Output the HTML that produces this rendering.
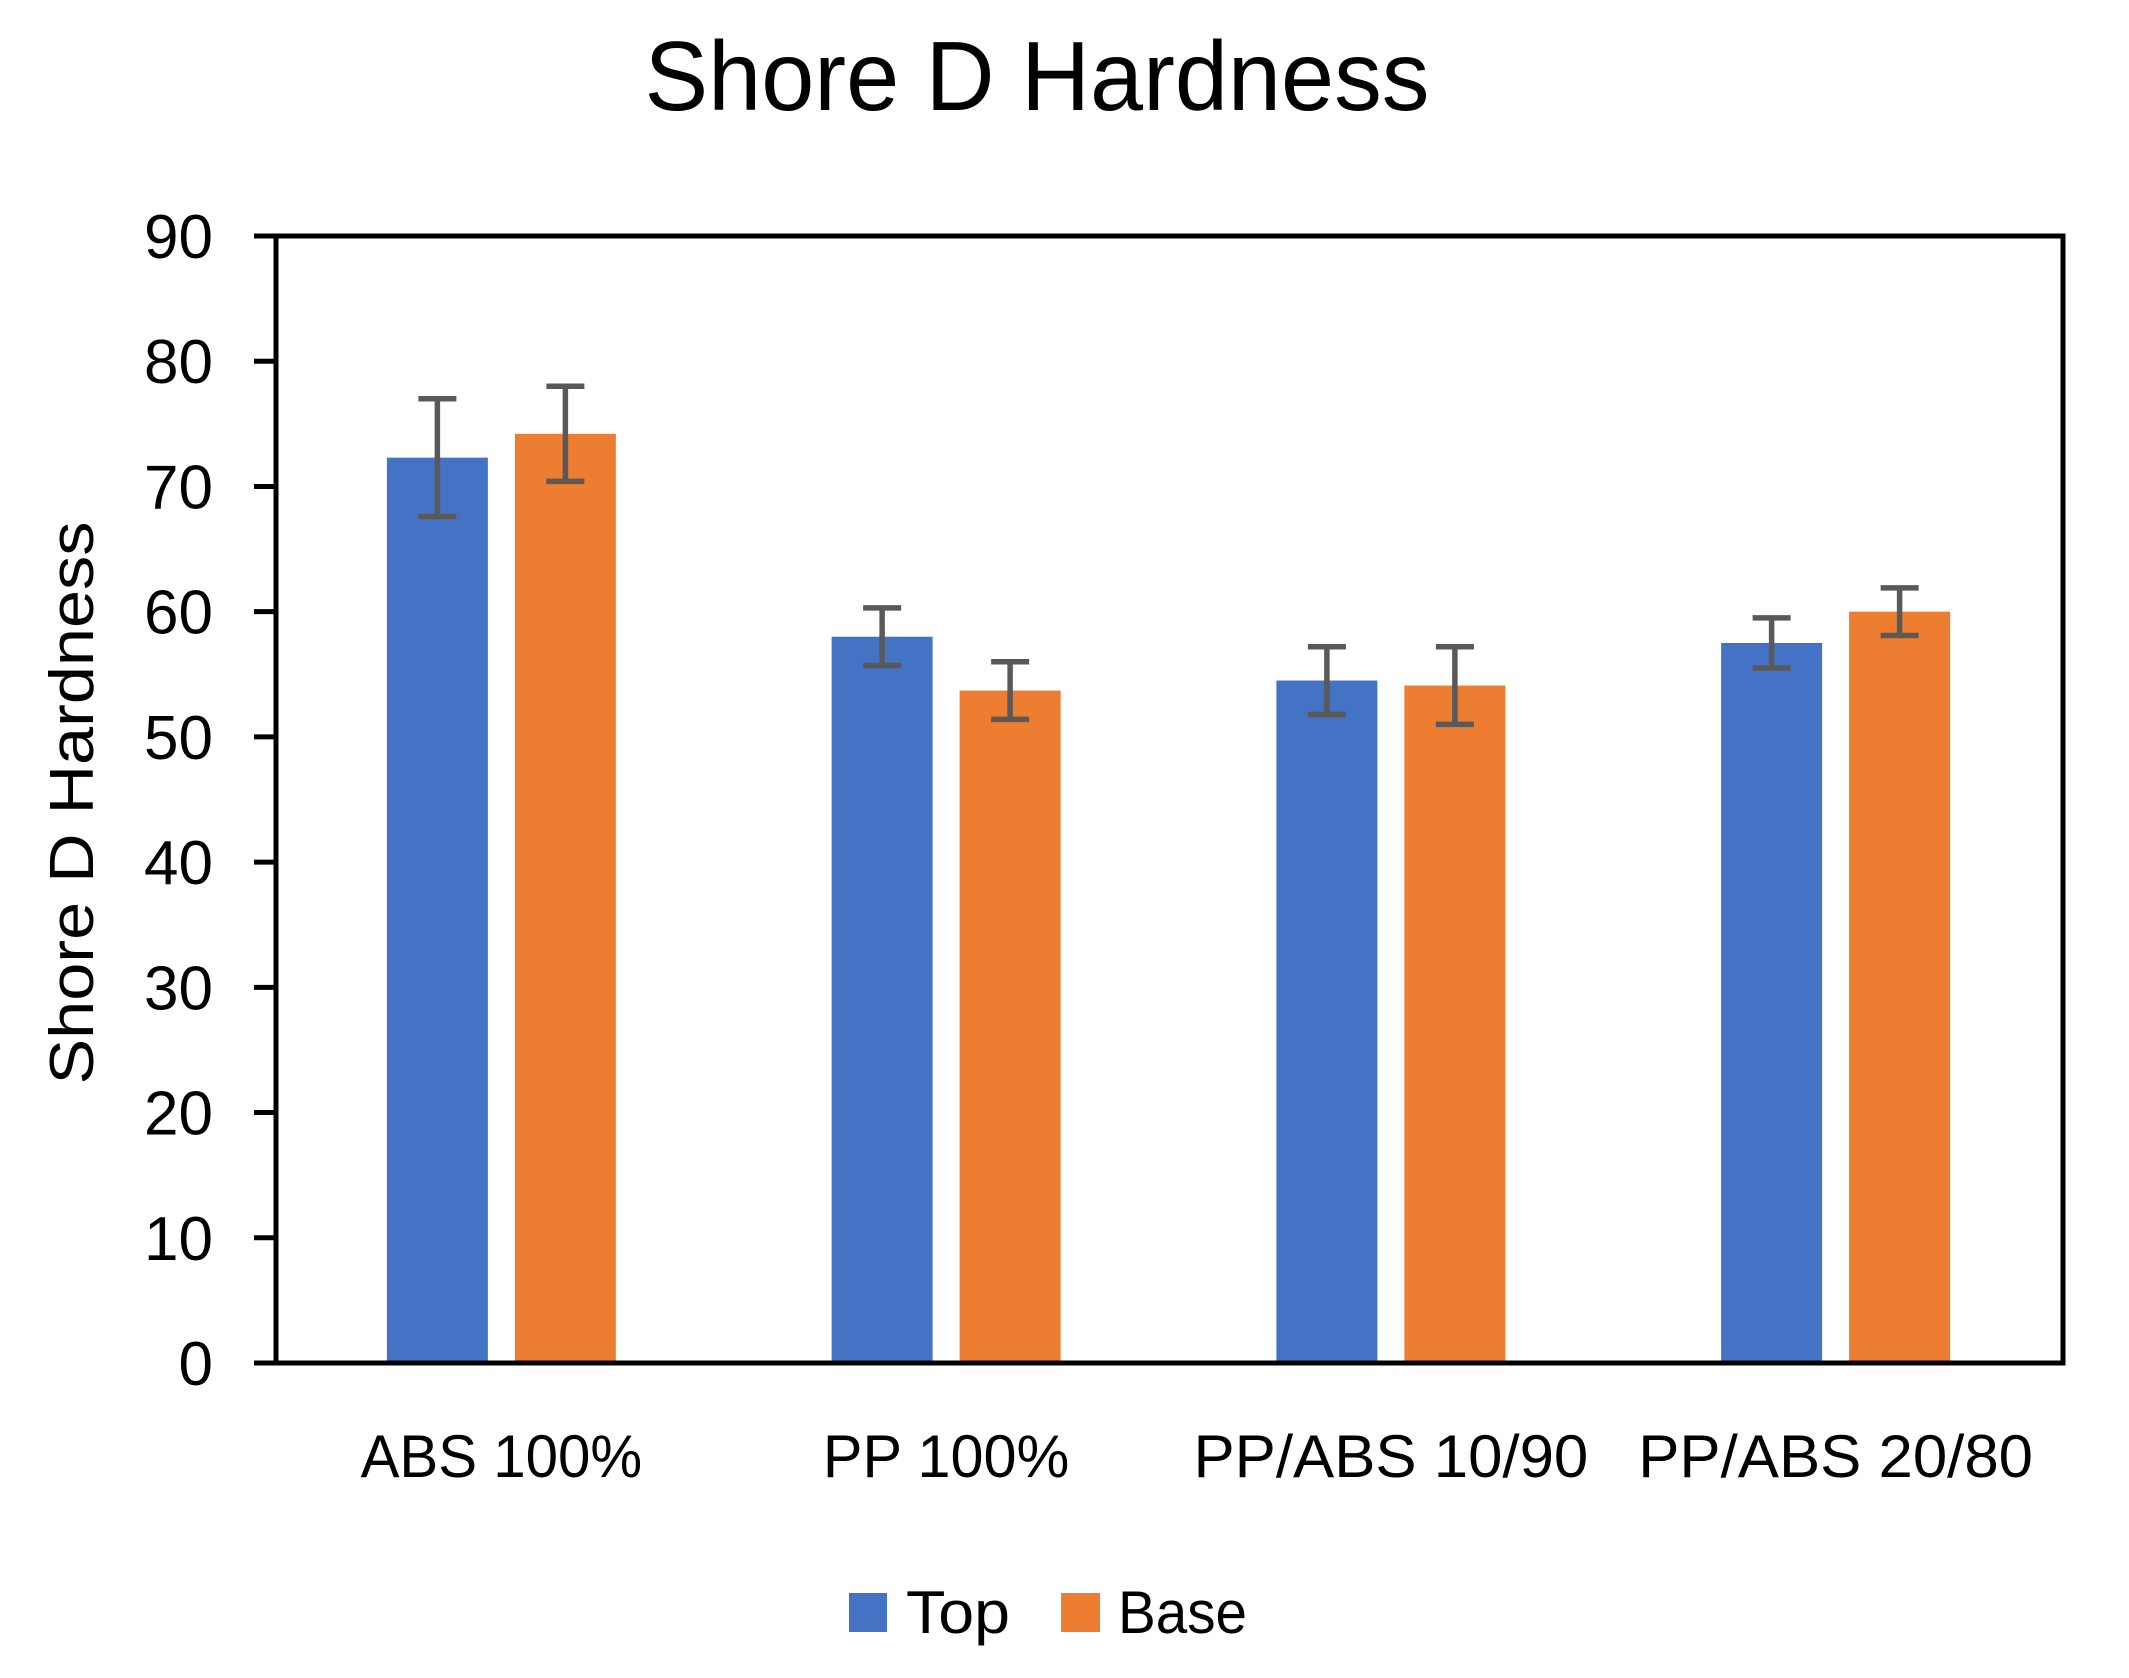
<!DOCTYPE html>
<html><head><meta charset="utf-8"><style>
html,body{margin:0;padding:0;background:#fff;}
svg{display:block;font-family:"Liberation Sans",sans-serif;}
</style></head><body>
<svg id="chart" width="2129" height="1678" viewBox="0 0 2129 1678" xmlns="http://www.w3.org/2000/svg">
<rect width="2129" height="1678" fill="#fff"/>
<text x="1037" y="110" font-size="98" text-anchor="middle" textLength="785" lengthAdjust="spacingAndGlyphs">Shore D Hardness</text>
<text transform="translate(93,803) rotate(-90)" font-size="62" text-anchor="middle" textLength="563" lengthAdjust="spacingAndGlyphs">Shore D Hardness</text>
<g id="plot"></g>
<g>
<rect x="849" y="1593" width="38" height="39" fill="#4472C4"/>
<text x="906" y="1633" font-size="60" textLength="104" lengthAdjust="spacingAndGlyphs">Top</text>
<rect x="1061" y="1593" width="39" height="39" fill="#ED7D31"/>
<text x="1118" y="1633" font-size="60" textLength="129" lengthAdjust="spacingAndGlyphs">Base</text>
</g>
</svg>
<script>
const categories = ["ABS 100%", "PP 100%", "PP/ABS 10/90", "PP/ABS 20/80"];
const topValues = [72.3, 58.0, 54.5, 57.5];
const topErrors = [4.7, 2.3, 2.7, 2.0];
const baseValues = [74.2, 53.7, 54.1, 60.0];
const baseErrors = [3.8, 2.3, 3.1, 1.9];
const yTicks = [0, 10, 20, 30, 40, 50, 60, 70, 80, 90];

const NS = "http://www.w3.org/2000/svg";
const L = 276, R = 2063, T = 236, B = 1363, yMax = 90;
const y = v => B - (v / yMax) * (B - T);
const band = (R - L - 8) / categories.length;
const xc = i => L + band * (i + 0.5) + 3;
const barW = 101, off = 64;
const labelPx = n => n <= 8 ? n * 35.2 : n * 32.9;
const plot = document.getElementById("plot");
function mk(tag, attrs) {
  const e = document.createElementNS(NS, tag);
  for (const k in attrs) e.setAttribute(k, attrs[k]);
  plot.appendChild(e);
  return e;
}
[[topValues, topErrors, "#4472C4", -off, "top"], [baseValues, baseErrors, "#ED7D31", off, "base"]].forEach(s => {
  s[0].forEach((v, i) => {
    const cx = xc(i) + s[3];
    const r = mk("rect", {x: cx - barW / 2, y: y(v), width: barW, height: B - y(v), fill: s[2]});
    
    
    const hi = y(v + s[1][i]), lo = y(v - s[1][i]);
    const p = mk("path", {d: `M${cx},${hi}V${lo}M${cx - 19},${hi}H${cx + 19}M${cx - 19},${lo}H${cx + 19}`, stroke: "#595959", "stroke-width": 5.5, fill: "none"});
    
    
  });
});
const f = mk("rect", {x: L, y: T, width: R - L, height: B - T, fill: "none", stroke: "#000", "stroke-width": 5});


yTicks.forEach(t => {
  const tk = mk("line", {x1: 254, x2: L, y1: y(t), y2: y(t), stroke: "#000", "stroke-width": 5});
  
  
  const tx = mk("text", {x: 213, y: y(t) + 22, "font-size": 62, "text-anchor": "end"});
  tx.textContent = t;
  
  
});
categories.forEach((c, i) => {
  const tx = mk("text", {x: xc(i), y: 1477, "font-size": 60, "text-anchor": "middle", textLength: labelPx(c.length), lengthAdjust: "spacingAndGlyphs"});
  tx.textContent = c;
  
  
});
</script>
</body></html>
